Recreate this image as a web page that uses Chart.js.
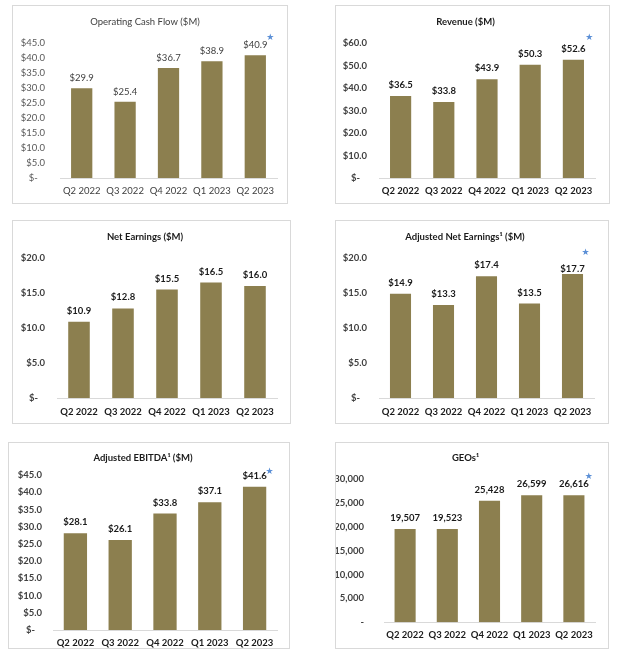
<!DOCTYPE html>
<html><head><meta charset="utf-8">
<script src="https://cdn.jsdelivr.net/npm/chart.js@4/dist/chart.umd.min.js"></script>
<style>
html,body{margin:0;padding:0;background:#fff;}
#page{position:relative;width:624px;height:660px;overflow:hidden;background:#fff;}
.panel{position:absolute;box-sizing:border-box;border:1px solid #d9d9d9;background:#fff;}
.panel canvas{position:absolute;left:0;top:0;}
</style></head><body><div id="page"></div>
<script>
// ---- data ----
const categories = ['Q2 2022', 'Q3 2022', 'Q4 2022', 'Q1 2023', 'Q2 2023'];
const operatingCashFlow = [29.9, 25.4, 36.7, 38.9, 40.9];
const revenue = [36.5, 33.8, 43.9, 50.3, 52.6];
const netEarnings = [10.9, 12.8, 15.5, 16.5, 16.0];
const adjustedNetEarnings = [14.9, 13.3, 17.4, 13.5, 17.7];
const adjustedEbitda = [28.1, 26.1, 33.8, 37.1, 41.6];
const geos = [19507, 19523, 25428, 26599, 26616];
const chartTitles = ['Operating Cash Flow ($M)', 'Revenue ($M)', 'Net Earnings ($M)',
  'Adjusted Net Earnings\u00B9 ($M)', 'Adjusted EBITDA\u00B9 ($M)', 'GEOs\u00B9'];
const yMaxima = [45, 60, 20, 20, 45, 30000];
const ySteps = [5, 10, 5, 5, 5, 5000];
const valueKinds = ['dollar', 'dollar', 'dollar', 'dollar', 'dollar', 'count'];
const starred = [true, true, false, true, true, true];
const seriesList = [operatingCashFlow, revenue, netEarnings, adjustedNetEarnings, adjustedEbitda, geos];

// ---- layout / style (absolute page coordinates) ----
const panelLayouts = [
  {box:[12,5,288,204],  plot:[60,43,277,178],  titleY:22,  xLabelY:191, bold:false, tickPad:15, barPct:0.49, labelGap:10, lastGap:10, star:[15,-8]},
  {box:[335,5,610,204], plot:[379,43,595,178], titleY:22,  xLabelY:191, bold:true,  tickPad:12, barPct:0.49, labelGap:11, lastGap:11, star:[16,-11]},
  {box:[12,220,291,424],plot:[57,258,277,398], titleY:237, xLabelY:412, bold:true,  tickPad:12, barPct:0.49, labelGap:11, lastGap:11, star:[0,0]},
  {box:[335,220,609,424],plot:[379,258,594,398],titleY:237, xLabelY:412, bold:true, tickPad:12, barPct:0.49, labelGap:11, lastGap:5, star:[13,-16]},
  {box:[8,442,290,649], plot:[53,475,277,630], titleY:458, xLabelY:643, bold:true,  tickPad:11, barPct:0.52, labelGap:11, lastGap:11, star:[15,-4]},
  {box:[335,442,609,649],plot:[384,479,595,630],titleY:458, xLabelY:643, bold:true, tickPad:20, barPct:0.50, labelGap:11, lastGap:11, star:[15,-8]}
];
const BAR_COLOR = '#8c7f4f';
const FONT = 'Lato';
const FS = 9.5;

function fmtValue(kind, v) {
  if (kind === 'dollar') return '$' + v.toFixed(1);
  return v.toLocaleString('en-US');
}
function fmtTick(kind, v) {
  if (v === 0) return kind === 'dollar' ? '$-   ' : '-';
  return fmtValue(kind, v);
}

function makeLabelPlugin(kind, showStar, p, font, color) {
  return {
    id: 'valueLabels',
    afterDatasetsDraw(chart) {
      const ctx = chart.ctx;
      const meta = chart.getDatasetMeta(0);
      const data = chart.data.datasets[0].data;
      const n = meta.data.length;
      ctx.save();
      ctx.font = font;
      ctx.fillStyle = color;
      ctx.textAlign = 'center';
      ctx.textBaseline = 'middle';
      meta.data.forEach((bar, i) => {
        const gap = i === n - 1 ? p.lastGap : p.labelGap;
        ctx.fillText(fmtValue(kind, data[i]), bar.x, bar.y - gap);
      });
      if (showStar) {
        const last = meta.data[n - 1];
        ctx.font = '9px "DejaVu Sans"';
        ctx.fillStyle = '#5b8fd6';
        ctx.fillText('\u2605', last.x + p.star[0], last.y - p.lastGap + p.star[1]);
      }
      ctx.restore();
    }
  };
}

const page = document.getElementById('page');
panelLayouts.forEach((p, idx) => {
  const [L, T, R, B] = p.box;
  const div = document.createElement('div');
  div.className = 'panel';
  div.style.left = L + 'px'; div.style.top = T + 'px';
  div.style.width = (R - L) + 'px'; div.style.height = (B - T) + 'px';
  const cw = R - L - 2, ch = B - T - 2;
  const canvas = document.createElement('canvas');
  canvas.width = cw; canvas.height = ch;
  canvas.style.width = cw + 'px'; canvas.style.height = ch + 'px';
  div.appendChild(canvas);
  page.appendChild(div);

  const ox = L + 1, oy = T + 1;
  const left = p.plot[0] - ox, top = p.plot[1] - oy, right = p.plot[2] - ox, bottom = p.plot[3] - oy;
  const lh = FS * 1.2;
  const titleC = p.titleY - oy;
  const weight = p.bold ? 'bold' : 'normal';
  const textColor = p.bold ? '#1a1a1a' : '#404040';
  const tickColor = p.bold ? '#404040' : '#595959';
  const kind = valueKinds[idx];

  new Chart(canvas, {
    type: 'bar',
    data: {
      labels: categories,
      datasets: [{
        data: seriesList[idx],
        backgroundColor: BAR_COLOR,
        borderWidth: 0,
        barPercentage: p.barPct,
        categoryPercentage: 1
      }]
    },
    options: {
      responsive: false,
      animation: false,
      devicePixelRatio: 1,
      layout: { padding: { left: 0, right: cw - right, top: 0, bottom: 0 } },
      plugins: {
        legend: { display: false },
        tooltip: { enabled: false },
        title: {
          display: true,
          text: chartTitles[idx],
          color: textColor,
          font: { family: FONT, size: FS, weight: weight, lineHeight: 1.2 },
          padding: { top: titleC - lh / 2, bottom: top - titleC - lh / 2 }
        }
      },
      scales: {
        x: {
          grid: { display: false, drawTicks: false },
          border: { display: true, color: '#d9d9d9', width: 1 },
          ticks: {
            color: textColor,
            font: { family: FONT, size: FS, weight: weight, lineHeight: 1.2 },
            padding: (p.xLabelY - p.plot[3]) - lh / 2,
            maxRotation: 0, autoSkip: false
          },
          afterFit(scale) { scale.height = ch - bottom; }
        },
        y: {
          min: 0, max: yMaxima[idx],
          grid: { display: false, drawTicks: false },
          border: { display: false },
          ticks: {
            stepSize: ySteps[idx],
            color: tickColor,
            font: { family: FONT, size: FS, weight: weight, lineHeight: 1.2 },
            padding: p.tickPad,
            callback: (v) => fmtTick(kind, v)
          },
          afterFit(scale) { scale.width = left; }
        }
      }
    },
    plugins: [makeLabelPlugin(kind, starred[idx], p, `${weight} ${FS}px ${FONT}`, textColor)]
  });
});
</script>
</body></html>
